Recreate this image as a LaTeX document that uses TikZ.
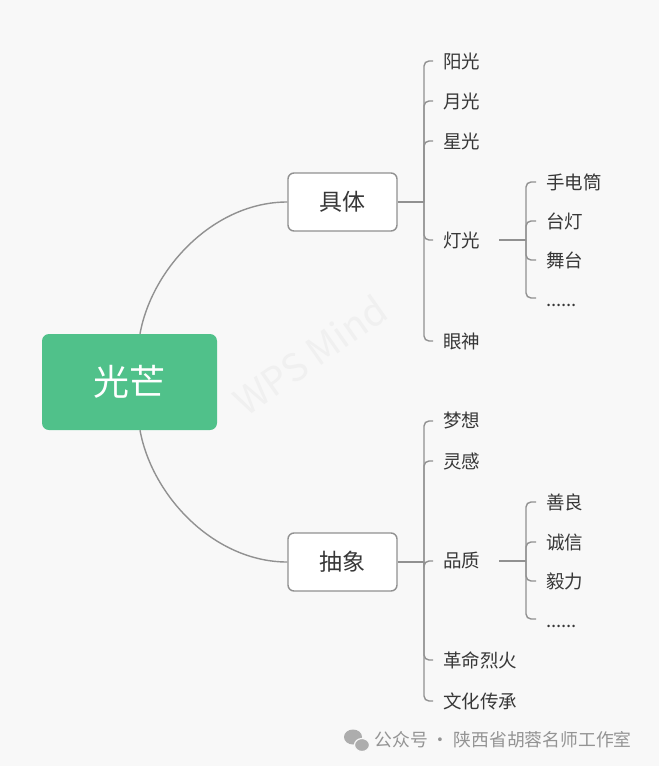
\documentclass[tikz,border=0pt]{standalone}
\usepackage{fontspec}
\setmainfont{Noto Sans CJK SC}
\usepackage{tikz}
\usetikzlibrary{positioning}
\definecolor{pagebg}{RGB}{248,248,248}
\definecolor{rootgreen}{RGB}{80,193,138}
\definecolor{linkgray}{RGB}{145,145,145}
\definecolor{textgray}{RGB}{55,55,55}

\begin{document}
\begin{tikzpicture}[x=1pt, y=-1pt,
  every node/.style={font=\fontsize{18.5}{20}\selectfont, text=textgray},
  rootbox/.style={fill=rootgreen, rounded corners=7pt, minimum width=175pt, minimum height=96pt, font=\fontsize{36}{40}\selectfont, text=white},
  topicbox/.style={draw=linkgray, fill=white, line width=1.4pt, rounded corners=6pt, minimum width=109pt, minimum height=58pt, font=\fontsize{23}{26}\selectfont},
  leaf/.style={anchor=west, inner xsep=10pt, inner ysep=2pt},
  link/.style={draw=linkgray, line width=1.4pt},
  fork/.style={link, rounded corners=5pt}]
\fill[pagebg] (0,0) rectangle (659,766);
\useasboundingbox (0,0) rectangle (659,766);
% watermark
\node[rotate=35, text=black!6, font=\fontsize{38}{40}\selectfont] (wm) at (310,355) {WPS Mind};
\node[rootbox] (root) at (129.5,382) {光芒};
\node[topicbox] (jt) at (342.5,202) {具体};
\node[topicbox] (cx) at (342.5,562) {抽象};
\draw[link] ([xshift=10.5pt]root.north) .. controls +(12,-66) and +(-73,0) .. (jt.west);
\draw[link] ([xshift=10.5pt]root.south) .. controls +(12,66) and +(-73,0) .. (cx.west);
% first level leaves
\node[leaf] (yg) at (433,61) {阳光};
\node[leaf] (yueg) at (433,101) {月光};
\node[leaf] (xg) at (433,141) {星光};
\node[leaf] (dg) at (433,240) {灯光};
\node[leaf] (ys) at (433,341) {眼神};
\node[leaf] (mx) at (433,421) {梦想};
\node[leaf] (lg) at (433,461) {灵感};
\node[leaf] (pz) at (433,561) {品质};
\node[leaf] (gm) at (433,660) {革命烈火};
\node[leaf] (wh) at (433,701) {文化传承};
% second level leaves
\node[leaf] (sdt) at (536,182) {手电筒};
\node[leaf] (td) at (536,221) {台灯};
\node[leaf] (wt) at (536,260) {舞台};
\node[leaf] (dgm) at (536,298) {\raisebox{-8pt}[0pt][0pt]{......}};
\node[leaf] (sl) at (536,502) {善良};
\node[leaf] (cxin) at (536,542) {诚信};
\node[leaf] (yl) at (536,581) {毅力};
\node[leaf] (pzm) at (536,619) {\raisebox{-8pt}[0pt][0pt]{......}};
\coordinate (jtb) at (424,202);
\coordinate (cxb) at (424,562);
\coordinate (dgb) at (526,240);
\coordinate (pzb) at (526,561);
\draw[link] (jt.east) -- (jtb);
\draw[link] (cx.east) -- (cxb);
\draw[link, shorten <=9pt] (dg.east) -- (dgb);
\draw[link, shorten <=9pt] (pz.east) -- (pzb);
\foreach \b/\c in {jtb/yg,jtb/yueg,jtb/xg,jtb/dg,jtb/ys,cxb/mx,cxb/lg,cxb/pz,cxb/gm,cxb/wh,dgb/sdt,dgb/td,dgb/wt,dgb/dgm,pzb/sl,pzb/cxin,pzb/yl,pzb/pzm}
  \draw[fork] (\b) |- (\c.west);
% footer
\fill[black!32] (353,737) ellipse (9 and 7.5);
\fill[black!32, draw=pagebg, line width=1.2pt] (362,745) ellipse (7.5 and 6.5);
\node[anchor=west, text=black!42, font=\fontsize{17.8}{20}\selectfont] (cap) at (371,740) {公众号 · 陕西省胡蓉名师工作室};
\end{tikzpicture}
\end{document}
